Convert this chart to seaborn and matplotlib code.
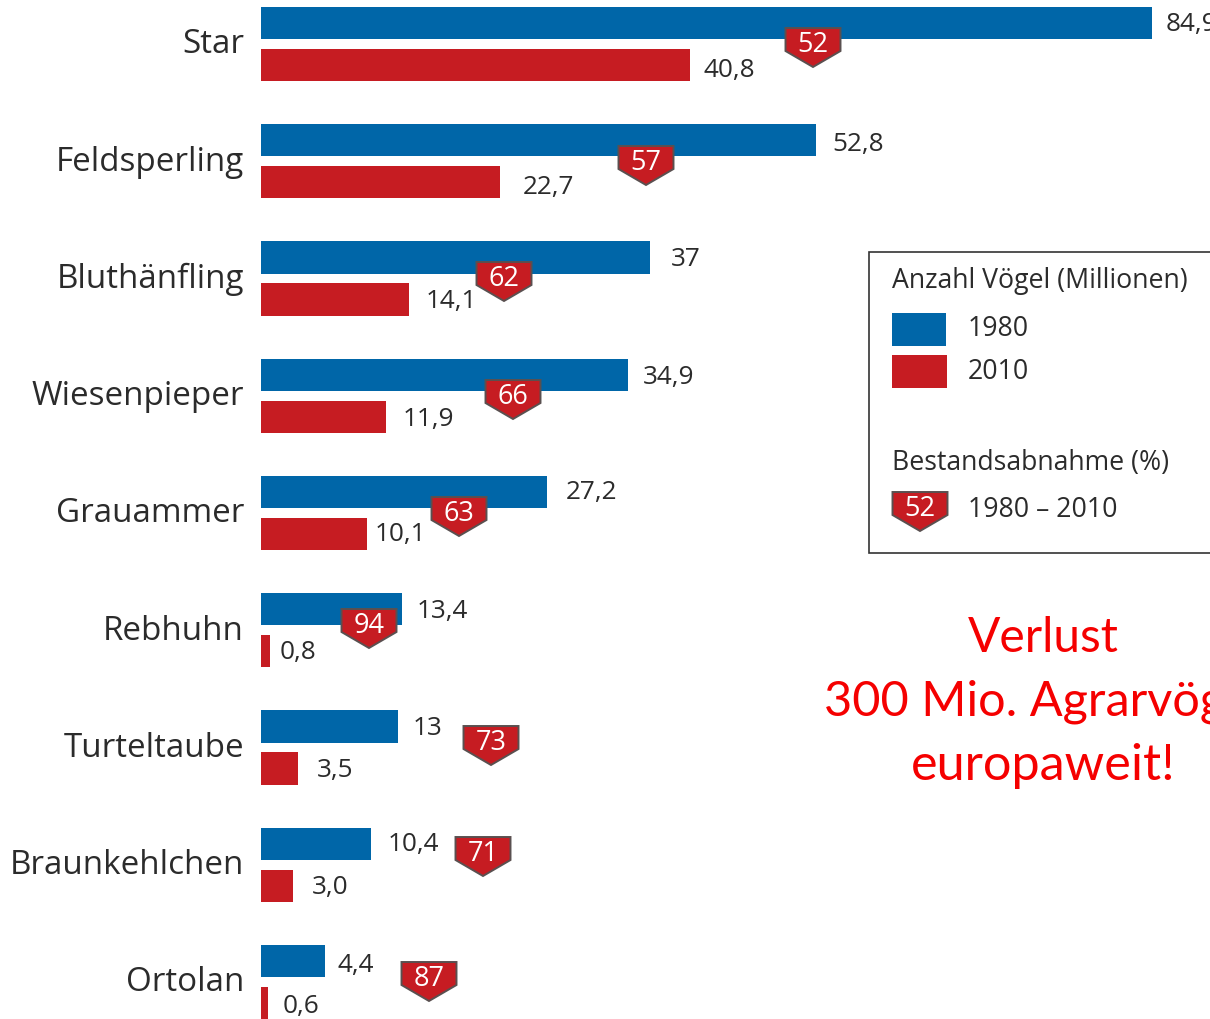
import matplotlib
matplotlib.use("Agg")
import matplotlib.pyplot as plt
import matplotlib.transforms as mtrans
from matplotlib.patches import Polygon, Rectangle
import pandas as pd
import seaborn as sns

species = ["Star", "Feldsperling", "Bluthänfling", "Wiesenpieper", "Grauammer",
           "Rebhuhn", "Turteltaube", "Braunkehlchen", "Ortolan"]
values_1980 = [84.9, 52.8, 37.0, 34.9, 27.2, 13.4, 13.0, 10.4, 6.1]
values_2010 = [40.8, 22.7, 14.1, 11.9, 10.1, 0.8, 3.5, 3.0, 0.6]
labels_1980 = ["84,9", "52,8", "37", "34,9", "27,2", "13,4", "13", "10,4", "4,4"]
labels_2010 = ["40,8", "22,7", "14,1", "11,9", "10,1", "0,8", "3,5", "3,0", "0,6"]
decline = [52, 57, 62, 66, 63, 94, 73, 71, 87]

BLUE, RED, INK = "#0066A8", "#C61C22", "#2B2B2B"
FONT = "Open Sans"
W, H = 1210, 1019

# layout (pixels)
gap_1980 = [13, 17, 21, 15, 19, 15, 15, 17, 12]
gap_2010 = [14, 23, 16, 16, 7, 10, 19, 19, 15]
dy_1980 = [2, 4, 2, 3, 1, 2, 2, 1, 5]
dy_2010 = [5, 5, 2, 3, 1, 1, 2, 2, 4]
shield_x = [813, 646, 504, 513, 459, 369, 491, 483, 429]
shield_top = [28, 146, 262, 380, 497, 609, 726, 837, 962]

sns.set_theme(style="white")
plt.rcParams["font.family"] = [FONT, "DejaVu Sans"]

fig = plt.figure(figsize=(W / 100, H / 100), dpi=100)
PX = mtrans.Affine2D().scale(1 / W, -1 / H).translate(0, 1) + fig.transFigure
ax = fig.add_axes([261.4 / W, 0, 1 - 261.4 / W, 1])

df = pd.DataFrame({
    "Art": species * 2,
    "Jahr": ["1980"] * len(species) + ["2010"] * len(species),
    "Anzahl": values_1980 + values_2010,
})
sns.barplot(data=df, y="Art", x="Anzahl", hue="Jahr", order=species,
            palette={"1980": BLUE, "2010": RED}, width=0.716, gap=0.23,
            dodge=True, legend=False, ax=ax, saturation=1, linewidth=0)

px_per_unit = (1152 - 261) / 84.9
ax.set_xlim(0, (W - 261.4) / px_per_unit)
row = 117.25
ax.set_ylim((H - 44) / row, -44 / row)
sns.despine(ax=ax, left=True, bottom=True)
ax.set_xlabel("")
ax.set_ylabel("")
ax.set_xticks([])
ax.tick_params(axis="y", length=0, pad=12.5, labelsize=23.9, labelcolor=INK)
for t in ax.get_yticklabels():
    t.set_fontfamily(FONT)
    t.set_transform(t.get_transform() + mtrans.ScaledTranslation(0, 2.2 / 72, fig.dpi_scale_trans))


def px_text(x, y, s, **kw):
    kw.setdefault("color", INK)
    kw.setdefault("fontsize", 18.8)
    kw.setdefault("va", "center")
    fig.text(x, y, s, transform=PX, **kw)


def shield(cx, top, num, w=55, h=39):
    hw = w / 2
    pts = [(cx - hw, top), (cx + hw, top), (cx + hw, top + 23), (cx, top + h), (cx - hw, top + 23)]
    fig.add_artist(Polygon(pts, closed=True, transform=PX, facecolor=RED,
                           edgecolor="#5A5050", linewidth=1.4, zorder=5))
    fig.text(cx, top + 17.5, str(num), transform=PX, color="white", fontsize=19.5,
             ha="center", va="center", zorder=6)


for i, bar_v in enumerate(values_1980):
    yc = 44 + row * i
    x1 = 261.4 + bar_v * px_per_unit
    x2 = 261.4 + values_2010[i] * px_per_unit
    px_text(x1 + gap_1980[i], yc - 21 + dy_1980[i], labels_1980[i])
    px_text(x2 + gap_2010[i], yc + 21 + dy_2010[i], labels_2010[i])
    shield(shield_x[i], shield_top[i], decline[i])

# Legend
fig.add_artist(Rectangle((868.5, 252), 400, 301, transform=PX, facecolor="white",
                         edgecolor="#333333", linewidth=1.2, zorder=3))
leg = dict(zorder=6, fontsize=19.2)
px_text(892, 281, "Anzahl Vögel (Millionen)", **leg)
fig.add_artist(Rectangle((892, 313), 54, 33, transform=PX, facecolor=BLUE, edgecolor="none", zorder=5))
fig.add_artist(Rectangle((892, 355), 55, 33, transform=PX, facecolor=RED, edgecolor="none", zorder=5))
px_text(968, 329, "1980", **leg)
px_text(968, 372, "2010", **leg)
px_text(892, 463, "Bestandsabnahme (%)", **leg)
shield(920, 492, 52)
px_text(968, 510, "1980 – 2010", **leg)

# Statement
statement = ["Verlust", "300 Mio. Agrarvögel", "europaweit!"]
for y, s, fs in zip([638, 702, 766], statement, [34.5, 35, 36.3]):
    fig.text(1043, y, s, transform=PX, color="#F50000", fontsize=fs, family="Lato",
             ha="center", va="center")

fig.savefig("out.png", dpi=100)
